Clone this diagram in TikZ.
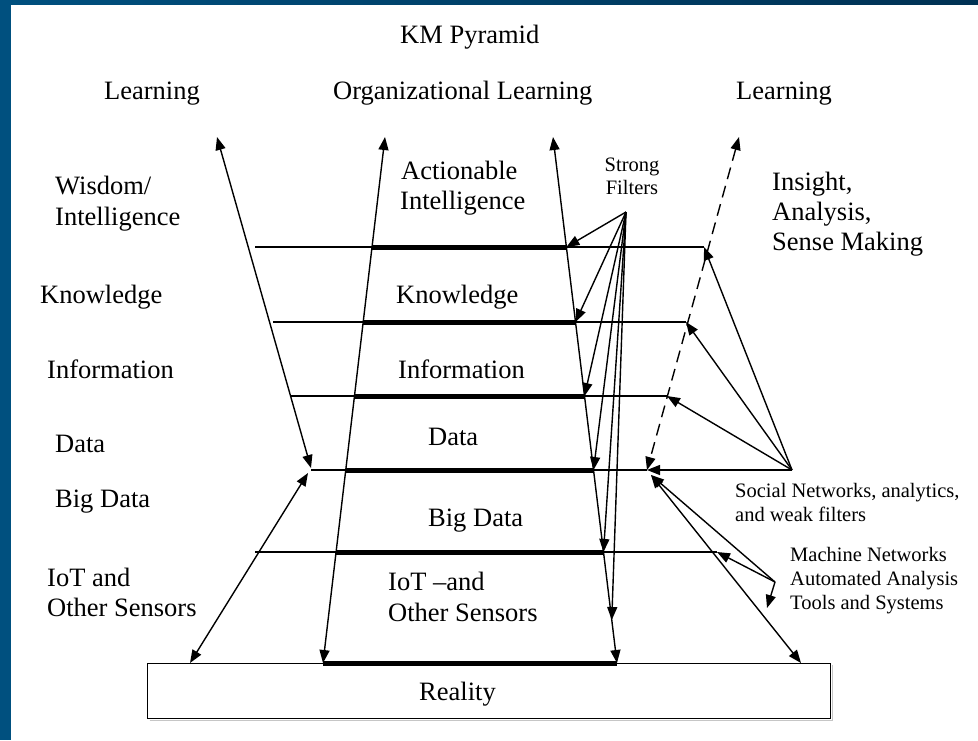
\documentclass[tikz,border=0pt]{standalone}
\usepackage{fontspec}
\setmainfont{Liberation Serif}
\usetikzlibrary{arrows.meta,calc}
\definecolor{bandL}{HTML}{00507F}
\definecolor{bandR}{HTML}{003153}
\begin{document}
\begin{tikzpicture}[x=1pt,y=-1pt,
  hline/.style={line width=1.3pt},
  thickseg/.style={line width=5pt},
  arrowto/.style={line width=1.4pt,-{Triangle[length=13pt,width=10pt]}},
  arrowboth/.style={line width=1.4pt,{Triangle[length=13pt,width=10pt]}-{Triangle[length=13pt,width=10pt]}},
  lbl/.style={anchor=base west,inner sep=0pt,font=\fontsize{26.5}{30}\selectfont},
  slbl/.style={anchor=base west,inner sep=0pt,font=\fontsize{20.5}{24}\selectfont},
  clbl/.style={anchor=base,inner sep=0pt,font=\fontsize{20.5}{24}\selectfont}]
% frame
\useasboundingbox (0,0) rectangle (978,740);
\fill[white] (0,0) rectangle (978,740);
\shade[left color=bandL,right color=bandR] (0,0) rectangle (978,4);
\fill[bandL] (0,0) rectangle (11,740);

% main coordinates
\coordinate (LLt) at (217,137);
\coordinate (LLb) at (311,468);
\coordinate (LBt) at (308,473);
\coordinate (LBb) at (190,663);
\coordinate (C1t) at (385,137);
\coordinate (C1b) at (323,663);
\coordinate (C2t) at (553,137);
\coordinate (C2b) at (617,663);
\coordinate (Rt) at (739,137);
\coordinate (Rb) at (647,470);
\coordinate (DGt) at (651,475);
\coordinate (DGb) at (801,663);
\coordinate (SF) at (626,212);
\coordinate (SN) at (792,470);
\coordinate (MN) at (775,582);
\coordinate (MNt) at (767,608);

% level points
\coordinate (L1) at (255,247);
\coordinate (L2) at (273,322);
\coordinate (L3) at (290,396);
\coordinate (L4) at (311,470);
\coordinate (L5) at (255,552);
\coordinate (R1) at (704,247);
\coordinate (R2) at (686,322);
\coordinate (R3) at (667,396);
\coordinate (R5) at (717,552);
\coordinate (A1) at ($(C1t)!0.20913!(C1b)$);
\coordinate (A2) at ($(C1t)!0.35171!(C1b)$);
\coordinate (A3) at ($(C1t)!0.49240!(C1b)$);
\coordinate (A4) at ($(C1t)!0.63308!(C1b)$);
\coordinate (A5) at ($(C1t)!0.78897!(C1b)$);
\coordinate (B1) at ($(C2t)!0.20913!(C2b)$);
\coordinate (B2) at ($(C2t)!0.35171!(C2b)$);
\coordinate (B3) at ($(C2t)!0.49240!(C2b)$);
\coordinate (B4) at ($(C2t)!0.63308!(C2b)$);
\coordinate (B5) at ($(C2t)!0.78897!(C2b)$);
\coordinate (B6) at ($(C2t)!0.91825!(C2b)$);

% reality box
\draw[gray!45,line width=1pt] (149.5,720) -- (832,720) -- (832,665);
\node[draw,line width=1pt,minimum width=683pt,minimum height=55pt,inner sep=0pt] (realitybox) at (488.5,690.5) {};

% horizontal levels
\draw[hline] (L1) -- (R1);
\draw[hline] (L2) -- (R2);
\draw[hline] (L3) -- (R3);
\draw[hline] (L4) -- (Rb);
\draw[hline] (L5) -- (R5);
\draw[thickseg] (A1) -- (B1);
\draw[thickseg] (A2) -- (B2);
\draw[thickseg] (A3) -- (B3);
\draw[thickseg] (A4) -- (B4);
\draw[thickseg] (A5) -- (B5);
\draw[thickseg] (C1b) -- (C2b);

% long arrows
\draw[arrowboth] (LLt) -- (LLb);
\draw[arrowboth] (LBt) -- (LBb);
\draw[arrowboth] (C1t) -- (C1b);
\draw[arrowboth] (C2t) -- (C2b);
\draw[arrowboth,dash pattern=on 12pt off 7pt] (Rt) -- (Rb);
\draw[arrowboth] (DGt) -- (DGb);

% strong filters
\draw[arrowto] (SF) -- (B1);
\draw[arrowto] (SF) -- (B2);
\draw[arrowto] (SF) -- (B3);
\draw[arrowto] (SF) -- (B4);
\draw[arrowto] (SF) -- (B5);
\draw[arrowto] (SF) -- (B6);

% social networks
\draw[arrowto] (SN) -- (R1);
\draw[arrowto] (SN) -- (R2);
\draw[arrowto] (SN) -- (R3);
\draw[arrowto] (SN) -- (Rb);

% machine networks
\draw[arrowto] (MN) -- (R5);
\draw[arrowto] (MN) -- (DGt);
\draw[arrowto] (MN) -- (MNt);

% texts
\node[lbl] (title) at (400,43) {KM Pyramid};
\node[lbl] (learnL) at (104,99) {Learning};
\node[lbl] (orgL) at (333,99) {Organizational Learning};
\node[lbl] (learnR) at (736,99) {Learning};

\node[lbl] (wis1) at (55,194) {Wisdom/};
\node[lbl] (wis2) at (55,225) {Intelligence};
\node[lbl] (knowL) at (40,303) {Knowledge};
\node[lbl] (infoL) at (47,378) {Information};
\node[lbl] (dataL) at (55,452) {Data};
\node[lbl] (bigL) at (55,507) {Big Data};
\node[lbl] (iotL1) at (47,586) {IoT and};
\node[lbl] (iotL2) at (47,616) {Other Sensors};

\node[lbl] (act1) at (401,179) {Actionable};
\node[lbl] (act2) at (400,209) {Intelligence};
\node[lbl] (knowC) at (396,303) {Knowledge};
\node[lbl] (infoC) at (398,378) {Information};
\node[lbl] (dataC) at (428,445) {Data};
\node[lbl] (bigC) at (428,526) {Big Data};
\node[lbl] (iotC1) at (388,590) {IoT –and};
\node[lbl] (iotC2) at (388,621) {Other Sensors};
\node[lbl] (realityT) at (419,700) {Reality};

\node[lbl] (ins1) at (772,190) {Insight,};
\node[lbl] (ins2) at (772,220) {Analysis,};
\node[lbl] (ins3) at (772,250) {Sense Making};

\node[clbl] (sf1) at (632,171) {Strong};
\node[clbl] (sf2) at (632,194) {Filters};

\node[slbl] (sn1) at (735,497) {Social Networks, analytics,};
\node[slbl] (sn2) at (735,521) {and weak filters};

\node[slbl] (mn1) at (790,561) {Machine Networks};
\node[slbl] (mn2) at (790,585) {Automated Analysis};
\node[slbl] (mn3) at (790,609) {Tools and Systems};
\end{tikzpicture}
\end{document}
